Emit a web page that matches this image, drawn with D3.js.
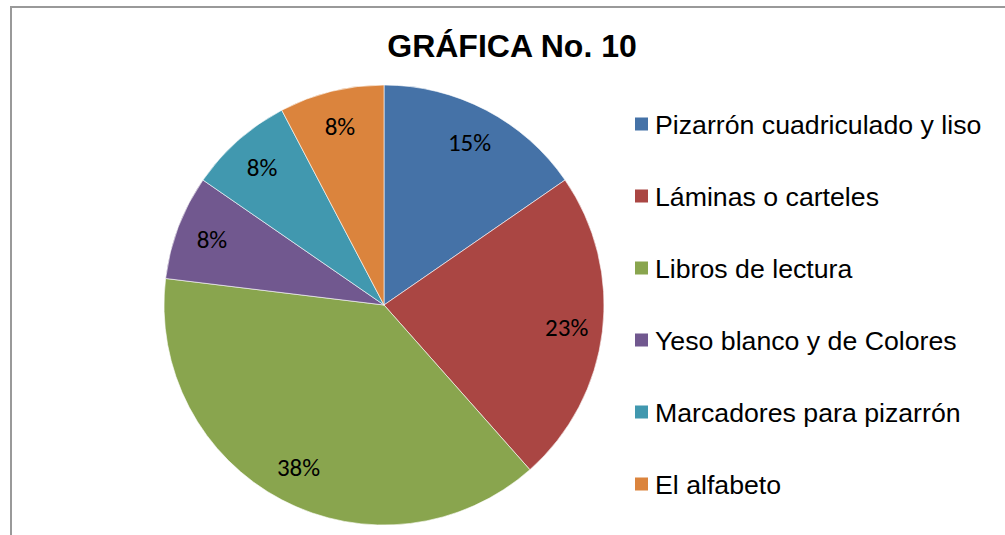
<!DOCTYPE html>
<html>
<head>
  <meta charset="utf-8">
  <title>GRÁFICA No. 10</title>
  <script src="https://cdn.jsdelivr.net/npm/d3@7/dist/d3.min.js"></script>
  <style>
    body { margin: 0; background: #fff; }
  </style>
</head>
<body>
  <svg width="1005" height="535"></svg>

  <script>
    // datos: 13 respuestas en total
    const categories = [
      "Pizarrón cuadriculado y liso",
      "Láminas o carteles",
      "Libros de lectura",
      "Yeso blanco y de Colores",
      "Marcadores para pizarrón",
      "El alfabeto"
    ];
    const counts = [2, 3, 5, 1, 1, 1];
    const colors = ["#4572A7", "#AA4643", "#89A54E", "#71588F", "#4198AF", "#DB843D"];
    const title = "GRÁFICA No. 10";

    const svg = d3.select("svg");

    // marco del gráfico
    svg.append("rect")
      .attr("x", 11).attr("y", 7)
      .attr("width", 1100).attr("height", 600)
      .attr("fill", "none")
      .attr("stroke", "#999")
      .attr("stroke-width", 2);

    svg.append("text")
      .attr("x", 512).attr("y", 57)
      .attr("text-anchor", "middle")
      .attr("font-family", "'Liberation Sans', Arial, sans-serif")
      .attr("font-weight", "bold")
      .attr("font-size", 32)
      .attr("fill", "#000")
      .text(title);

    const cx = 384, cy = 305, radius = 220;
    const total = d3.sum(counts);
    const data = categories.map((c, i) => ({ name: c, value: counts[i], color: colors[i] }));

    const pie = d3.pie().sort(null).value(d => d.value);
    const arc = d3.arc().innerRadius(0).outerRadius(radius);
    const labelArc = d3.arc().innerRadius(184).outerRadius(184);

    const g = svg.append("g").attr("transform", `translate(${cx},${cy})`);
    const arcs = pie(data);

    g.selectAll("path.slice")
      .data(arcs)
      .enter()
      .append("path")
      .attr("class", "slice")
      .attr("d", arc)
      .attr("fill", d => d.data.color)
      .attr("stroke", "#fff")
      .attr("stroke-width", 0.6);

    g.selectAll("text.lbl")
      .data(arcs)
      .enter()
      .append("text")
      .attr("class", "lbl")
      .attr("transform", d => `translate(${labelArc.centroid(d)})`)
      .attr("text-anchor", "middle")
      .attr("dominant-baseline", "central")
      .attr("font-family", "Carlito, Calibri, Lato, sans-serif")
      .attr("font-size", 25)
      .attr("fill", "#000")
      .text(d => Math.round(d.data.value / total * 100) + "%");

    // leyenda
    const legend = svg.append("g").attr("transform", "translate(635,124)");
    const item = legend.selectAll("g.item")
      .data(data)
      .enter()
      .append("g")
      .attr("class", "item")
      .attr("transform", (d, i) => `translate(0,${i * 72})`);

    item.append("rect")
      .attr("x", 0).attr("y", -6.5)
      .attr("width", 13).attr("height", 13)
      .attr("fill", d => d.color);

    item.append("text")
      .attr("x", 20).attr("y", 9.5)
      .attr("font-family", "'Liberation Sans', Arial, sans-serif")
      .attr("font-size", 26.7)
      .attr("fill", "#000")
      .text(d => d.name);
  </script>
</body>
</html>
